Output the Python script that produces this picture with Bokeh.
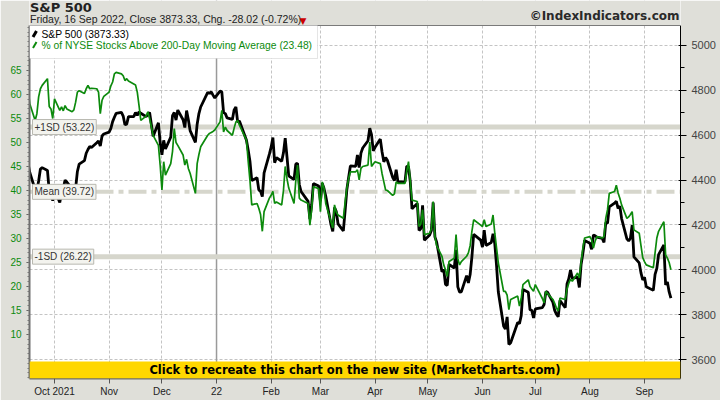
import pandas as pd
from bokeh.plotting import figure
from bokeh.models import (Range1d, LinearAxis, FixedTicker, Span, Label,
                          BoxAnnotation, PolyAnnotation)
from bokeh.embed import file_html
from bokeh.resources import INLINE

# ---------------- data ----------------
months = ["2021-09", "2021-10", "2021-11", "2021-12", "2022-01", "2022-02", "2022-03",
          "2022-04", "2022-05", "2022-06", "2022-07", "2022-08", "2022-09"]
trade_days = [
    [16, 17, 20, 21, 22, 23, 24, 27, 28, 29, 30],
    [1, 4, 5, 6, 7, 8, 11, 12, 13, 14, 15, 18, 19, 20, 21, 22, 25, 26, 27, 28, 29],
    [1, 2, 3, 4, 5, 8, 9, 10, 11, 12, 15, 16, 17, 18, 19, 22, 23, 24, 26, 29, 30],
    [1, 2, 3, 6, 7, 8, 9, 10, 13, 14, 15, 16, 17, 20, 21, 22, 23, 27, 28, 29, 30, 31],
    [3, 4, 5, 6, 7, 10, 11, 12, 13, 14, 18, 19, 20, 21, 24, 25, 26, 27, 28, 31],
    [1, 2, 3, 4, 7, 8, 9, 10, 11, 14, 15, 16, 17, 18, 22, 23, 24, 25, 28],
    [1, 2, 3, 4, 7, 8, 9, 10, 11, 14, 15, 16, 17, 18, 21, 22, 23, 24, 25, 28, 29, 30, 31],
    [1, 4, 5, 6, 7, 8, 11, 12, 13, 14, 18, 19, 20, 21, 22, 25, 26, 27, 28, 29],
    [2, 3, 4, 5, 6, 9, 10, 11, 12, 13, 16, 17, 18, 19, 20, 23, 24, 25, 26, 27, 31],
    [1, 2, 3, 6, 7, 8, 9, 10, 13, 14, 15, 16, 17, 21, 22, 23, 24, 27, 28, 29, 30],
    [1, 5, 6, 7, 8, 11, 12, 13, 14, 15, 18, 19, 20, 21, 22, 25, 26, 27, 28, 29],
    [1, 2, 3, 4, 5, 8, 9, 10, 11, 12, 15, 16, 17, 18, 19, 22, 23, 24, 25, 26, 29, 30, 31],
    [1, 2, 6, 7, 8, 9, 12, 13, 14, 15, 16],
]
spx_close = [
    [4473.8, 4433.0, 4357.7, 4354.2, 4395.6, 4449.0, 4455.5, 4443.1, 4352.6, 4359.5, 4307.5],
    [4357.0, 4300.5, 4345.7, 4363.6, 4399.8, 4391.3, 4361.2, 4350.7, 4363.8, 4438.3, 4471.4,
     4486.5, 4519.6, 4536.2, 4549.8, 4544.9, 4566.5, 4574.8, 4551.7, 4596.4, 4605.4],
    [4613.7, 4630.7, 4660.6, 4680.1, 4697.5, 4701.7, 4685.3, 4646.7, 4649.3, 4682.9, 4682.8,
     4700.9, 4688.7, 4704.5, 4698.0, 4682.9, 4690.7, 4701.5, 4594.6, 4655.3, 4567.0],
    [4513.0, 4577.1, 4538.4, 4591.7, 4686.8, 4701.2, 4667.5, 4712.0, 4669.0, 4634.1, 4709.9,
     4668.7, 4620.6, 4568.0, 4649.2, 4696.6, 4725.8, 4791.2, 4786.4, 4793.1, 4778.7, 4766.2],
    [4796.6, 4793.5, 4700.6, 4696.1, 4677.0, 4670.3, 4713.1, 4726.4, 4659.0, 4662.9, 4577.1,
     4532.8, 4482.7, 4397.9, 4410.1, 4356.5, 4349.9, 4326.5, 4431.9, 4515.6],
    [4546.5, 4589.4, 4477.4, 4500.5, 4483.9, 4521.5, 4587.2, 4504.1, 4418.6, 4401.7, 4471.1,
     4475.0, 4380.3, 4348.9, 4304.8, 4225.5, 4288.7, 4384.7, 4373.9],
    [4306.3, 4386.5, 4363.5, 4328.9, 4201.1, 4170.7, 4277.9, 4259.5, 4204.3, 4173.1, 4262.5,
     4357.9, 4411.7, 4463.1, 4461.2, 4511.6, 4456.2, 4520.2, 4543.1, 4575.5, 4631.6, 4602.5, 4530.4],
    [4545.9, 4582.6, 4525.1, 4481.2, 4500.2, 4488.3, 4412.5, 4397.5, 4446.6, 4392.6, 4391.7,
     4462.2, 4459.5, 4393.7, 4271.8, 4296.1, 4175.2, 4184.0, 4287.5, 4131.9],
    [4155.4, 4175.5, 4300.2, 4146.9, 4123.3, 3991.2, 4001.1, 3935.2, 3930.1, 4023.9, 4008.0,
     4088.9, 3923.7, 3900.8, 3901.4, 3973.8, 3941.5, 3978.7, 4057.8, 4158.2, 4132.2],
    [4101.2, 4176.8, 4108.5, 4121.4, 4160.7, 4115.8, 4017.8, 3900.9, 3749.6, 3735.5, 3790.0,
     3666.8, 3674.8, 3764.8, 3759.9, 3795.7, 3911.7, 3900.1, 3821.6, 3818.8, 3785.4],
    [3825.3, 3831.4, 3845.1, 3902.6, 3899.4, 3854.4, 3818.8, 3801.8, 3790.4, 3863.2, 3830.9,
     3936.7, 3959.9, 3999.0, 3961.6, 3966.8, 3921.1, 4023.6, 4072.4, 4130.3],
    [4118.6, 4091.2, 4155.2, 4151.9, 4145.2, 4140.1, 4122.5, 4210.2, 4207.3, 4280.2, 4297.1,
     4305.2, 4274.0, 4283.7, 4228.5, 4138.0, 4128.7, 4140.8, 4199.1, 4057.7, 4030.6, 3986.2, 3955.0],
    [3966.9, 3924.3, 3908.2, 3979.9, 4006.2, 4067.4, 4110.4, 3932.7, 3946.0, 3901.4, 3873.33],
]
pct_above = [
    [61.2, 58.0, 54.6, 56.0, 59.5, 61.2, 61.9, 63.3, 57.5, 57.0, 55.0],
    [59.1, 56.7, 57.4, 56.6, 57.7, 57.0, 56.4, 56.8, 58.4, 60.5, 60.8,
     60.2, 61.2, 61.9, 61.2, 61.3, 61.2, 60.5, 56.0, 58.8, 59.6],
    [60.5, 61.8, 62.6, 64.3, 64.6, 64.3, 63.9, 62.9, 63.3, 62.8, 62.2,
     62.0, 60.5, 57.7, 54.6, 55.5, 56.4, 55.0, 51.5, 49.4, 45.3],
    [40.1, 46.0, 43.2, 45.6, 48.1, 52.9, 50.0, 49.4, 47.4, 45.3, 46.5,
     44.6, 43.6, 39.4, 45.6, 47.5, 49.1, 51.5, 51.9, 52.1, 52.3, 52.6],
    [54.3, 56.7, 52.2, 53.2, 52.5, 51.5, 53.0, 54.3, 54.6, 53.6, 50.5,
     46.0, 42.0, 37.0, 37.3, 36.3, 35.0, 31.5, 35.6, 38.4],
    [39.0, 39.8, 37.3, 37.6, 37.0, 40.0, 45.0, 42.5, 40.5, 37.3, 42.0,
     45.3, 38.4, 38.0, 37.3, 32.8, 36.0, 40.8, 40.4],
    [35.6, 41.8, 40.5, 37.3, 33.5, 32.2, 37.0, 35.5, 34.9, 34.2, 37.5,
     40.5, 42.5, 43.9, 43.9, 44.3, 42.2, 44.6, 45.0, 45.3, 50.1, 45.0, 45.5],
    [46.0, 45.6, 43.5, 41.8, 40.1, 40.0, 39.0, 39.3, 41.8, 41.5, 41.5,
     44.0, 46.0, 42.0, 38.0, 37.7, 32.5, 33.0, 36.0, 30.8],
    [31.1, 32.0, 37.7, 30.4, 28.5, 26.3, 24.5, 23.5, 22.1, 25.2, 25.9,
     30.8, 25.8, 24.5, 25.2, 26.3, 27.0, 28.5, 31.5, 33.9, 32.8],
    [32.5, 33.9, 32.5, 33.0, 34.9, 31.1, 28.0, 24.9, 19.0, 19.0, 18.2,
     15.2, 17.3, 18.0, 15.9, 17.5, 20.4, 21.4, 20.0, 19.5, 19.0],
    [20.4, 17.5, 16.6, 19.0, 18.5, 17.3, 16.5, 15.5, 14.9, 17.6, 17.3,
     19.5, 20.7, 21.5, 21.1, 22.8, 21.8, 25.0, 28.0, 30.1],
    [30.4, 29.7, 28.0, 29.5, 30.4, 30.1, 30.4, 34.2, 36.0, 39.4, 39.8,
     41.1, 39.5, 38.4, 37.0, 34.2, 34.5, 35.0, 35.6, 31.8, 31.1, 28.5, 26.0],
    [25.2, 24.5, 23.9, 27.0, 30.1, 31.5, 33.5, 26.6, 25.9, 25.0, 23.48],
]
month_ticks = ["2021-10-01", "2021-11-01", "2021-12-01", "2022-01-01", "2022-02-01", "2022-03-01",
               "2022-04-01", "2022-05-01", "2022-06-01", "2022-07-01", "2022-08-01", "2022-09-01"]
month_labels = ["Oct 2021", "Nov", "Dec", "22", "Feb", "Mar", "Apr", "May", "Jun", "Jul", "Aug", "Sep"]
year_start = "2022-01-01"
spx_ticks = [3600, 3800, 4000, 4200, 4400, 4600, 4800, 5000]
spx_minor = [3600, 3700, 3800, 3900, 4000, 4100, 4200, 4300, 4400, 4500, 4600, 4700, 4800, 4900, 5000]
pct_ticks = [10, 15, 20, 25, 30, 35, 40, 45, 50, 55, 60, 65]
sd_levels = [53.22, 39.72, 26.22]
sd_texts = ["+1SD (53.22)", "Mean (39.72)", "-1SD (26.22)"]
title_text = "S&P 500"
subtitle_text = "Friday, 16 Sep 2022, Close 3873.33, Chg. -28.02 (-0.72%)"
copyright_text = "\u00a9IndexIndicators.com"
legend_spx = "S&P 500 (3873.33)"
legend_pct = "% of NYSE Stocks Above 200-Day Moving Average (23.48)"
banner_text = "Click to recreate this chart on the new site (MarketCharts.com)"

# ---------------- layout (page pixels) ----------------
W, H = 720, 400
LEFT, RIGHT, BOTTOM = 29, 680, 378
VIS_TOP = 25                      # visible top edge of the plotting area
FRAME_W, FRAME_H = RIGHT - LEFT, BOTTOM   # frame runs from page y=0 (header drawn inside it)
GREEN = "#0c8a0c"
BG = "#dfdfd9"
FONT = "Liberation Sans"


def ms(s):
    return pd.Timestamp(s).value // 10**6


dates = [pd.Timestamp(f"{m}-{d:02d}") for m, ds in zip(months, trade_days) for d in ds]
spx = [v for vs in spx_close for v in vs]
pct = [v for vs in pct_above for v in vs]

x_range = Range1d(start=ms("2021-09-16 19:19"), end=ms("2022-09-21 10:34"))
spx_range = Range1d(start=3515.3, end=5200.6)
pct_range = Range1d(start=0.833, end=79.583)


def x_at(px):
    return x_range.start + (px - LEFT) * (x_range.end - x_range.start) / FRAME_W


def y_at(py):
    return spx_range.end - py * (spx_range.end - spx_range.start) / FRAME_H


def pct_at(py):
    return pct_range.end - py * (pct_range.end - pct_range.start) / FRAME_H


p = figure(width=W, height=H, x_axis_type="datetime", y_axis_location="right",
           x_range=x_range, y_range=spx_range, output_backend="svg", toolbar_location=None,
           min_border_left=LEFT, min_border_right=W - RIGHT, min_border_top=0,
           min_border_bottom=H - BOTTOM)
p.extra_y_ranges = {"pct": pct_range}
p.background_fill_color = "white"
p.border_fill_color = BG
p.outline_line_color = None

# x axis
xt = FixedTicker(ticks=[ms(t) for t in month_ticks])
p.xaxis.ticker = xt
p.xaxis.major_label_overrides = {ms(t): lab for t, lab in zip(month_ticks, month_labels)}
p.xgrid.ticker = xt

# right axis (S&P 500)
yt = FixedTicker(ticks=spx_ticks, minor_ticks=spx_minor)
p.yaxis.ticker = yt
p.yaxis.bounds = (spx_range.start, y_at(VIS_TOP))
p.ygrid.ticker = yt

# left axis (percent)
left = LinearAxis(y_range_name="pct",
                  ticker=FixedTicker(ticks=pct_ticks, minor_ticks=list(range(1, 75))),
                  bounds=(pct_range.start, pct_at(VIS_TOP)))
p.add_layout(left, "left")

for ax in [p.xaxis[0], p.yaxis[0], left]:
    ax.axis_line_color = "#6e6e6e"
    ax.axis_line_width = 2
    ax.major_tick_line_color = "#555555"
    ax.minor_tick_line_color = "#777777"
    ax.major_tick_in = 0
    ax.minor_tick_in = 0
    ax.major_label_text_font = FONT
    ax.major_label_text_font_size = "10.5px"
    ax.major_label_text_color = "#222222"
p.xaxis.major_tick_out = 5
p.xaxis.major_label_standoff = 2
p.xaxis.minor_tick_out = 0
p.xaxis.major_label_text_font_size = "10px"
p.yaxis[0].major_tick_out = 4
p.yaxis[0].minor_tick_out = 2
p.yaxis[0].major_label_standoff = 3
p.yaxis[0].major_label_text_font_size = "10px"
left.major_tick_out = 3
left.minor_tick_out = 2
left.major_label_standoff = 5
left.major_label_text_color = GREEN

for g in [p.xgrid[0], p.ygrid[0]]:
    g.grid_line_color = "#c4c4c4"
    g.grid_line_dash = "3 2"
    g.grid_line_width = 1

# year separator
p.add_layout(Span(location=ms(year_start), dimension="height", line_color="#9a9a9a",
                  line_width=1.5, level="underlay"))

# SD bands
for lvl, dash, lw in zip(sd_levels, ["solid", "18 5 5 5", "solid"], [5, 4, 5]):
    p.add_layout(Span(location=lvl, dimension="width", y_range_name="pct",
                      line_color="#d6d6cc", line_width=lw, line_dash=dash, level="underlay"))

# series
p.line(dates, spx, line_color="black", line_width=2.8)
p.line(dates, pct, y_range_name="pct", line_color=GREEN, line_width=1.7)

# SD labels
for lvl, txt in zip(sd_levels, sd_texts):
    p.add_layout(Label(x=x_at(LEFT + 3), y=lvl, y_range_name="pct", text=txt,
                       text_baseline="middle", text_font=FONT, text_font_size="10px",
                       text_color="#333333", background_fill_color="#f3f3ee",
                       border_line_color="#b8b8b0", padding=2))

# banner
p.add_layout(BoxAnnotation(top=y_at(361), fill_color="#ffd700", fill_alpha=1.0,
                           line_alpha=0, level="overlay"))
p.add_layout(Label(x=(x_range.start + x_range.end) / 2, y=y_at(369.5),
                   text=banner_text, text_align="center", text_baseline="middle",
                   text_font="DejaVu Sans", text_font_style="bold", text_font_size="11.5px",
                   text_color="black", level="overlay"))

# header band (drawn over the top of the frame)
p.add_layout(BoxAnnotation(bottom=y_at(VIS_TOP), fill_color=BG, fill_alpha=1.0,
                           line_alpha=0, level="overlay"))
p.add_layout(Span(location=y_at(VIS_TOP), dimension="width", line_color="#7a7a7a",
                  line_width=1, level="overlay"))

# legend box
p.add_layout(BoxAnnotation(left=x_at(LEFT), right=x_at(317), top=y_at(VIS_TOP), bottom=y_at(58),
                           fill_color="white", fill_alpha=1.0, line_color="#a8a8a8",
                           line_width=1, level="overlay"))
p.add_layout(PolyAnnotation(xs=[x_at(32.5), x_at(36)], ys=[y_at(36.5), y_at(30.5)],
                            line_color="black", line_alpha=1.0, line_width=3,
                            fill_alpha=0, level="overlay"))
p.add_layout(PolyAnnotation(xs=[x_at(32.5), x_at(36)], ys=[y_at(47.5), y_at(41.5)],
                            line_color=GREEN, line_alpha=1.0, line_width=2,
                            fill_alpha=0, level="overlay"))
p.add_layout(Label(x=x_at(41), y=y_at(34), text=legend_spx,
                   text_baseline="middle", text_font=FONT, text_font_size="10.3px",
                   text_color="black", level="overlay"))
p.add_layout(Label(x=x_at(41), y=y_at(44.5), text=legend_pct,
                   text_baseline="middle", text_font=FONT, text_font_size="10.3px",
                   text_color=GREEN, level="overlay"))

# header texts
p.add_layout(Label(x=x_at(29.5), y=y_at(7), text=title_text,
                   text_baseline="middle", text_font="DejaVu Sans", text_font_style="bold",
                   text_font_size="13px", text_color="#222222", level="overlay"))
p.add_layout(Label(x=x_at(29.5), y=y_at(18.5), text=subtitle_text,
                   text_baseline="middle", text_font=FONT, text_font_size="10.5px",
                   text_color="#222222", level="overlay"))
p.add_layout(Label(x=x_at(299), y=y_at(20.5), text="\u25bc",
                   text_baseline="middle", text_font="DejaVu Sans", text_font_size="9px",
                   text_color="#cc0000", level="overlay"))
p.add_layout(Label(x=x_at(679), y=y_at(15.5), text=copyright_text, text_align="right",
                   text_baseline="middle", text_font="DejaVu Sans", text_font_style="bold",
                   text_font_size="12px", text_color="#2a2a2a", level="overlay"))

open("out.html", "w").write(file_html(p, INLINE, title="S&P 500"))
